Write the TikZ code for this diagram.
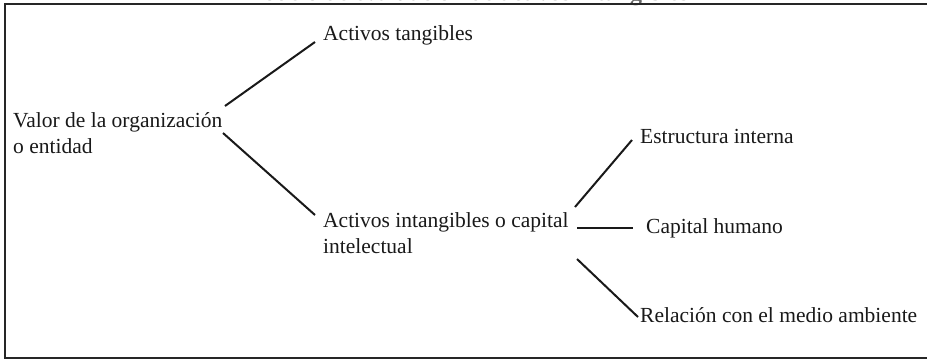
\documentclass[tikz,border=0pt]{standalone}
\usepackage{fontspec}
\setmainfont{Liberation Serif}
\usetikzlibrary{calc}
\tikzset{
  lbl/.style={anchor=base west, inner sep=0pt, align=left, font=\fontsize{21.5}{26}\selectfont, text=black!90},
  conn/.style={draw=black!90, line width=2pt},
  frame/.style={draw=black!85, line width=2.8pt}
}
\begin{document}
\begin{tikzpicture}[x=1pt,y=-1pt]
\useasboundingbox (0,0) rectangle (927,360);
\clip (0,0) rectangle (927,360);
\node[anchor=base, inner sep=0pt, font=\bfseries\fontsize{24}{28}\selectfont, text=black!60] (title) at (465,0.8) {Modelo de evaluación de activos intangibles};
\draw[frame] (935,4) -- (5,4) -- (5,358) -- (935,358);
\node[lbl] (valor) at (13,153) {Valor de la organización\\o entidad};
\node[lbl] (tang) at (323,40) {Activos tangibles};
\node[lbl] (intang) at (323,253) {Activos intangibles o capital\\intelectual};
\node[lbl] (estr) at (640,143) {Estructura interna};
\node[lbl] (hum) at (646,233) {Capital humano};
\node[lbl] (rel) at (640,322) {Relación con el medio ambiente};
\coordinate (v1) at (225,106);
\coordinate (v2) at (223,133);
\coordinate (t1) at (315,42);
\coordinate (i1) at (315,215);
\coordinate (c1) at (575,207);
\coordinate (c2) at (577,228);
\coordinate (c3) at (577,259);
\coordinate (e1) at (632,140);
\coordinate (h1) at (633,228);
\coordinate (r1) at (638,317);
\draw[conn] (v1) -- (t1);
\draw[conn] (v2) -- (i1);
\draw[conn] (c1) -- (e1);
\draw[conn] (c2) -- (h1);
\draw[conn] (c3) -- (r1);
\end{tikzpicture}
\end{document}
